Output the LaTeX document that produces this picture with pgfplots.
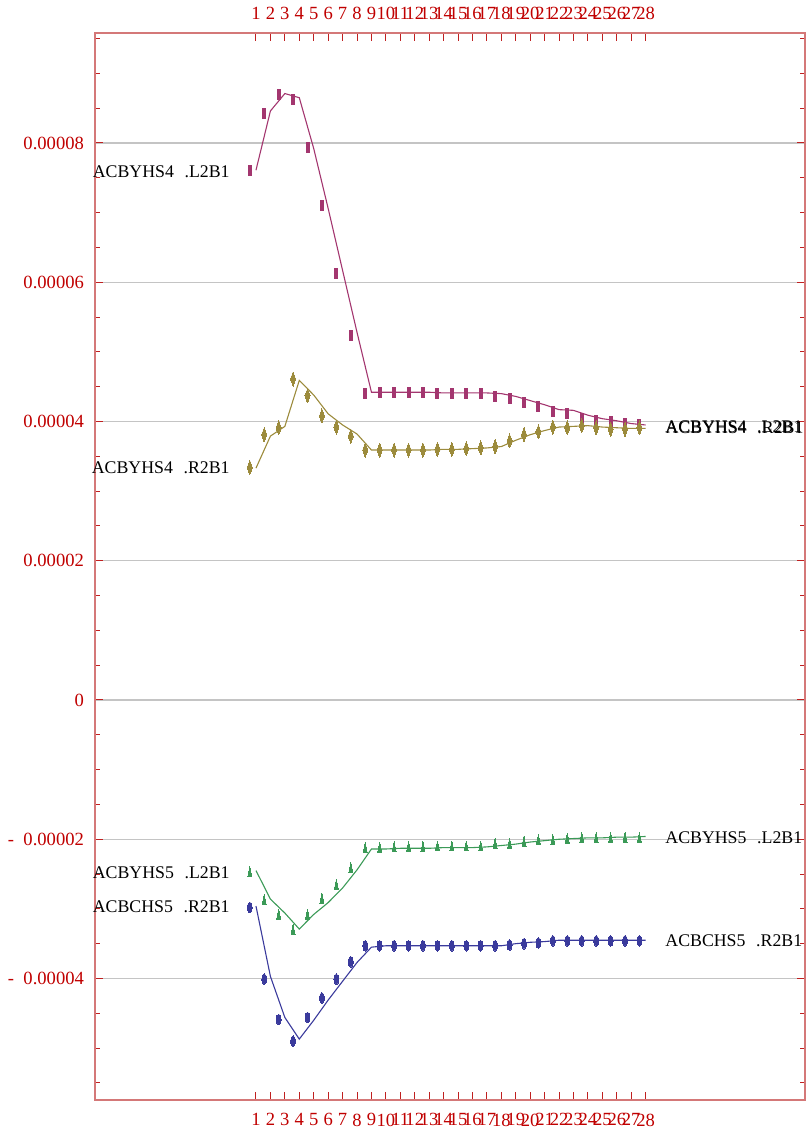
\documentclass[border=0pt]{standalone}
\usepackage{pgfplots}
\pgfplotsset{compat=1.18}
\usepackage{pgfplotstable}
\usepackage{fontspec}
\setmainfont{Liberation Serif}
\definecolor{framered}{HTML}{D47878}
\definecolor{tickred}{HTML}{C02020}
\definecolor{labelred}{HTML}{C00000}
\definecolor{gridgray}{HTML}{C4C4C4}
\definecolor{cpur}{HTML}{A3366F}
\definecolor{colv}{HTML}{9C8B3C}
\definecolor{cgrn}{HTML}{3B9A57}
\definecolor{cblu}{HTML}{3A3A9C}

% values in units of 1e-5
\pgfplotstableread{
x line mark
1 7.61 7.60
2 8.46 8.43
3 8.71 8.69
4 8.65 8.63
5 7.92 7.93
6 7.06 7.10
7 6.17 6.13
8 5.28 5.23
9 4.42 4.40
10 4.42 4.41
11 4.42 4.41
12 4.42 4.41
13 4.42 4.41
14 4.41 4.40
15 4.41 4.40
16 4.41 4.40
17 4.41 4.40
18 4.40 4.36
19 4.36 4.33
20 4.30 4.27
21 4.24 4.21
22 4.17 4.14
23 4.16 4.12
24 4.09 4.05
25 4.04 4.02
26 4.01 4.00
27 3.97 3.97
28 3.95 3.95
}\tblPur

\pgfplotstableread{
x line mark
1 3.33 3.34
2 3.79 3.81
3 3.93 3.91
4 4.59 4.61
5 4.38 4.37
6 4.11 4.08
7 3.95 3.92
8 3.82 3.79
9 3.59 3.59
10 3.59 3.59
11 3.59 3.59
12 3.59 3.59
13 3.59 3.59
14 3.60 3.60
15 3.60 3.60
16 3.61 3.61
17 3.62 3.62
18 3.64 3.64
19 3.73 3.72
20 3.81 3.81
21 3.87 3.85
22 3.92 3.92
23 3.93 3.91
24 3.94 3.94
25 3.92 3.91
26 3.91 3.89
27 3.90 3.89
28 3.90 3.91
}\tblOlv

\pgfplotstableread{
x line mark
1 -2.45 -2.49
2 -2.86 -2.89
3 -3.06 -3.10
4 -3.29 -3.32
5 -3.08 -3.10
6 -2.91 -2.87
7 -2.70 -2.67
8 -2.44 -2.43
9 -2.14 -2.14
10 -2.14 -2.14
11 -2.13 -2.13
12 -2.13 -2.13
13 -2.13 -2.13
14 -2.12 -2.12
15 -2.12 -2.12
16 -2.12 -2.12
17 -2.11 -2.12
18 -2.09 -2.08
19 -2.07 -2.08
20 -2.04 -2.05
21 -2.02 -2.03
22 -2.00 -2.03
23 -1.99 -2.01
24 -1.98 -2.00
25 -1.98 -2.00
26 -1.97 -2.00
27 -1.97 -2.00
28 -1.96 -2.00
}\tblGrn

\pgfplotstableread{
x line mark
1 -2.96 -2.98
2 -3.97 -4.01
3 -4.56 -4.59
4 -4.87 -4.90
5 -4.60 -4.56
6 -4.31 -4.28
7 -4.04 -4.01
8 -3.77 -3.76
9 -3.55 -3.53
10 -3.53 -3.53
11 -3.53 -3.53
12 -3.53 -3.53
13 -3.53 -3.53
14 -3.53 -3.53
15 -3.53 -3.53
16 -3.53 -3.53
17 -3.53 -3.53
18 -3.53 -3.53
19 -3.50 -3.52
20 -3.48 -3.50
21 -3.47 -3.49
22 -3.45 -3.46
23 -3.45 -3.46
24 -3.45 -3.46
25 -3.45 -3.46
26 -3.45 -3.46
27 -3.45 -3.46
28 -3.45 -3.46
}\tblBlu

\newcommand{\tickfont}{\fontsize{9.3}{10}\selectfont}
\newcommand{\lblfont}{\fontsize{8.9}{10}\selectfont}

\begin{document}
\begin{tikzpicture}
\useasboundingbox (-47.5pt,-14pt) rectangle (356pt,550pt);
\begin{axis}[
  at={(0,0)}, anchor=south west,
  scale only axis, width=355pt, height=533.5pt,
  xmin=-10.155, xmax=39.04, ymin=-5.745, ymax=9.58,
  xtick={1,...,28},
  ytick={-4,-2,0,2,4,6,8},
  yticklabels={{-\hspace{0.5em}0.00004},{-\hspace{0.5em}0.00002},0,0.00002,0.00004,0.00006,0.00008},
  minor ytick={-5.5,-5,...,9.5},
  ymajorgrids,
  major grid style={draw=gridgray, line width=0.6pt},
  tick align=inside,
  major tick length=4pt, minor tick length=2.5pt,
  tick style={draw=tickred, line width=0.5pt},
  axis line style={draw=framered, line width=1pt},
  tick label style={font=\tickfont, text=labelred},
  /pgf/number format/assume math mode=true,
  xticklabel style={yshift=-3.3pt},
  yticklabel style={xshift=-2pt},
  clip=false,
]
\addplot[cpur, line width=0.55pt] table[x=x, y=line]{\tblPur};
\addplot[cpur, only marks, mark=square*, mark size=2.5pt, mark options={xscale=0.3, fill=cpur, draw=cpur, line width=0pt}] table[x expr=\thisrow{x}-0.43, y=mark]{\tblPur};

\addplot[colv, line width=0.55pt] table[x=x, y=line]{\tblOlv};
\addplot[colv, only marks, mark=diamond*, mark size=3.5pt, mark options={xscale=0.48, fill=colv, draw=colv, line width=0pt}] table[x expr=\thisrow{x}-0.43, y=mark]{\tblOlv};

\addplot[cgrn, line width=0.55pt] table[x=x, y=line]{\tblGrn};
\addplot[cgrn, only marks, mark=triangle*, mark size=3.3pt, mark options={xscale=0.35, fill=cgrn, draw=cgrn, line width=0pt}] table[x expr=\thisrow{x}-0.43, y=mark]{\tblGrn};

\addplot[cblu, line width=0.55pt] table[x=x, y=line]{\tblBlu};
\addplot[cblu, only marks, mark=*, mark size=2.7pt, mark options={xscale=0.45, fill=cblu, draw=cblu, line width=0pt}] table[x expr=\thisrow{x}-0.43, y=mark]{\tblBlu};

\node[anchor=east, inner sep=0pt, font=\lblfont] at (axis cs:-0.8,7.59) {ACBYHS4\hspace{0.6em}.L2B1};
\node[anchor=east, inner sep=0pt, font=\lblfont] at (axis cs:-0.8,3.33) {ACBYHS4\hspace{0.6em}.R2B1};
\node[anchor=east, inner sep=0pt, font=\lblfont] at (axis cs:-0.8,-2.48) {ACBYHS5\hspace{0.6em}.L2B1};
\node[anchor=east, inner sep=0pt, font=\lblfont] at (axis cs:-0.8,-2.97) {ACBCHS5\hspace{0.6em}.R2B1};

\node[anchor=west, inner sep=0pt, font=\lblfont] at (axis cs:29.34,3.92) {ACBYHS4\hspace{0.6em}.L2B1};
\node[anchor=west, inner sep=0pt, font=\lblfont] at (axis cs:29.36,3.91) {ACBYHS4\hspace{0.6em}.R2B1};
\node[anchor=west, inner sep=0pt, font=\lblfont] at (axis cs:29.34,-1.98) {ACBYHS5\hspace{0.6em}.L2B1};
\node[anchor=west, inner sep=0pt, font=\lblfont] at (axis cs:29.34,-3.46) {ACBCHS5\hspace{0.6em}.R2B1};
\end{axis}
\begin{axis}[
  at={(0,0)}, anchor=south west,
  scale only axis, width=355pt, height=533.5pt,
  xmin=-10.155, xmax=39.04, ymin=-5.745, ymax=9.58,
  xtick={1,...,28}, ytick=\empty,
  axis line style={draw=none},
  major tick length=0pt,
  tick style={draw=none},
  xticklabel pos=right,
  tick label style={font=\tickfont, text=labelred},
  /pgf/number format/assume math mode=true,
  xticklabel style={yshift=3.3pt},
]
\end{axis}
\end{tikzpicture}
\end{document}
